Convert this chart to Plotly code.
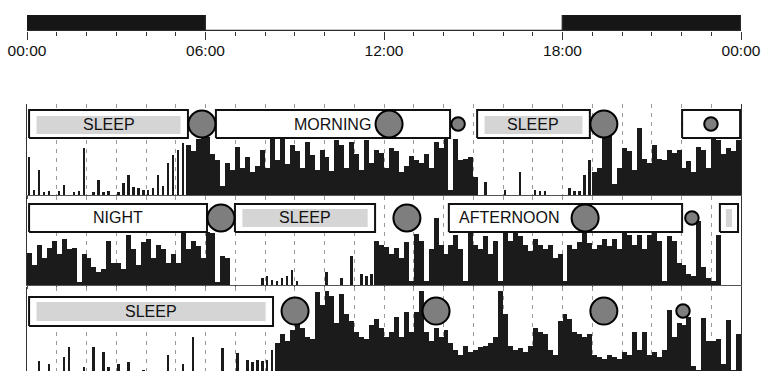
import plotly.graph_objects as go

# ---------------- data ----------------
TICK_HOURS = [0, 6, 12, 18, 24]
TICK_LABELS = ["00:00", "06:00", "12:00", "18:00", "00:00"]

LIGHT_START = [0, 6, 18]
LIGHT_END = [6, 18, 24]
LIGHT_PHASE = ["dark", "light", "dark"]

BIN_HOURS = 1 / 6  # 10-minute activity bins

ACT_DAY1 = [42, 5, 27, 3, 4, 0, 4, 11, 0, 3, 4, 52, 0, 3, 16, 3, 4, 0, 3, 13, 22, 9, 8, 6, 5, 8, 22, 10, 35, 44, 50, 57,
            55, 48, 62, 66, 64, 45, 38, 10, 35,
            28, 53, 30, 42, 25, 32, 49, 30, 62, 38, 61, 34, 55, 48, 30, 58, 44, 28, 50, 42, 26, 60, 55, 30, 58, 45,
            28, 60, 35, 50, 46, 30, 52, 48, 25, 32, 43, 38, 35, 45, 30, 58, 52, 62,
            5, 62, 38, 40, 42, 20,
            0, 14, 0, 0, 0, 5, 0, 0, 25, 0, 0, 6, 4, 4, 0, 0, 0, 0, 8, 4, 4, 22, 38, 25, 30, 66, 66, 12, 30, 52, 48,
            28, 74, 40, 35, 55, 40, 38, 50, 46, 50, 30, 37, 25, 53, 50, 30, 62, 60, 45, 52, 48, 60]

ACT_DAY2 = [36, 22, 45, 30, 42, 50, 35, 52, 40, 42, 3, 35, 30, 20, 15, 18, 50, 25, 25, 18, 56, 40, 22, 48, 52, 30, 45,
            40, 25, 35, 25, 58, 40, 50, 44, 30, 60, 58, 3, 33, 30, 0,
            0, 0, 0, 0, 0, 8, 10, 6, 5, 8, 10, 17, 5, 0, 0, 0, 0, 0, 15, 0, 0, 8, 0, 33, 0, 12, 10, 12, 50, 45,
            43, 35, 42, 30, 48, 5, 57, 50, 5, 40, 75, 45, 35, 45, 56, 40, 5, 58, 45, 40, 55, 35, 50, 5, 62, 50, 62,
            55, 45, 38, 52, 45, 40, 45, 30, 35, 5, 45, 40, 48, 60, 47, 40, 45, 52, 44, 52, 40, 58, 56, 45, 56, 40,
            56, 58, 50, 5, 55, 50, 25, 22, 12, 10, 72, 20, 8, 5, 56, 0, 0, 0, 0]

ACT_DAY3 = [0, 0, 18, 0, 15, 0, 0, 22, 33, 0, 0, 11, 0, 33, 0, 28, 11, 0, 15, 0, 17, 0, 0, 8, 0, 0, 0, 0, 24, 0, 0, 15,
            0, 44, 0, 0, 0, 0, 0, 32, 0, 0, 27, 0, 19, 17, 19, 18, 19, 30, 38,
            48, 40, 52, 72, 55, 45, 42, 94, 80, 96, 90, 60, 92, 70, 62, 50, 44, 42, 58, 65, 55, 45, 50, 67, 45, 72,
            50, 72, 96, 50, 40, 55, 45, 52, 38, 30, 25, 35, 28, 30, 33, 35, 38, 45, 96, 70, 35, 30, 32, 28, 35, 55,
            50, 48, 30, 25, 62, 70, 65, 50, 48, 45, 48, 25, 22, 20, 25, 22, 20, 28, 25, 50, 30, 50, 25, 28, 22, 30,
            75, 45, 60, 58, 67, 12, 8, 66, 40, 40, 42, 15, 63, 8, 48]

EP_DAY1_START = [0.07, 6.35, 15.13, 22.02]
EP_DAY1_END = [5.41, 14.22, 18.92, 23.97]
EP_DAY1_LABEL = ["SLEEP", "MORNING", "SLEEP", ""]
EP_DAY1_KIND = ["sleep", "wake", "sleep", "wake"]

EP_DAY2_START = [0.07, 6.99, 14.18, 23.29]
EP_DAY2_END = [6.05, 11.70, 22.02, 23.90]
EP_DAY2_LABEL = ["NIGHT", "SLEEP", "AFTERNOON", ""]
EP_DAY2_KIND = ["wake", "sleep", "wake", "sleep"]

EP_DAY3_START = [0.07]
EP_DAY3_END = [8.27]
EP_DAY3_LABEL = ["SLEEP"]
EP_DAY3_KIND = ["sleep"]

MARK_DAY1_TIME = [5.88, 12.17, 14.49, 19.39, 22.99]
MARK_DAY1_SIZE = ["large", "large", "small", "large", "small"]
MARK_DAY2_TIME = [6.52, 12.77, 18.76, 22.35]
MARK_DAY2_SIZE = ["large", "large", "large", "small"]
MARK_DAY3_TIME = [9.01, 13.75, 19.39, 22.05]
MARK_DAY3_SIZE = ["large", "large", "large", "small"]

# ---------------- style ----------------
W, H = 766, 371
FONT = "Liberation Sans, Arial, sans-serif"
INK = "#111111"
GRID = "#9a9a9a"
MARK_PX = {"large": 27, "small": 13.5}
LEFT_ALIGN_LABELS = {"AFTERNOON"}
SLEEP_BAR_FRACTION = 0.4  # activity during sleep drawn as thin spikes


def py(p):
    return 1 - p / H


ROWS = [
    dict(act=ACT_DAY1, s=EP_DAY1_START, e=EP_DAY1_END, lab=EP_DAY1_LABEL, kind=EP_DAY1_KIND,
         mt=MARK_DAY1_TIME, ms=MARK_DAY1_SIZE,
         domain=[py(195), py(104)], yrange=[0, 100], box=(62.6, 93.4), inner=(67.0, 86.8), mark_y=78.0,
         baseline=True),
    dict(act=ACT_DAY2, s=EP_DAY2_START, e=EP_DAY2_END, lab=EP_DAY2_LABEL, kind=EP_DAY2_KIND,
         mt=MARK_DAY2_TIME, ms=MARK_DAY2_SIZE,
         domain=[py(285), py(196)], yrange=[0, 100], box=(59.6, 91.0), inner=(65.2, 85.4), mark_y=75.3,
         baseline=True),
    dict(act=ACT_DAY3, s=EP_DAY3_START, e=EP_DAY3_END, lab=EP_DAY3_LABEL, kind=EP_DAY3_KIND,
         mt=MARK_DAY3_TIME, ms=MARK_DAY3_SIZE,
         domain=[0, py(287)], yrange=[6.7, 100], box=(56.7, 88.9), inner=(62.2, 83.3), mark_y=73.3,
         baseline=False),
]

fig = go.Figure()

# top light/dark bar
fig.add_trace(go.Bar(
    x=[e - s for s, e in zip(LIGHT_START, LIGHT_END)], base=LIGHT_START, y=[0.5] * len(LIGHT_START),
    orientation="h", width=1,
    marker=dict(color=["#161616" if p == "dark" else "#ffffff" for p in LIGHT_PHASE],
                line=dict(color="#2a2a2a", width=1.2)),
    xaxis="x", yaxis="y", showlegend=False, hoverinfo="skip"))

annotations = []
for k, r in enumerate(ROWS, start=2):
    xa, ya = f"x{k}", f"y{k}"
    n = len(r["act"])
    centers = [(i + 0.5) * BIN_HOURS for i in range(n)]
    sleep_spans = [(s, e) for s, e, kd in zip(r["s"], r["e"], r["kind"]) if kd == "sleep"]
    widths = [BIN_HOURS * (SLEEP_BAR_FRACTION if any(s <= c <= e for s, e in sleep_spans) else 1.0)
              for c in centers]
    fig.add_trace(go.Bar(
        x=centers, y=r["act"], width=widths,
        marker=dict(color="#1b1b1b", line=dict(width=0)),
        xaxis=xa, yaxis=ya, showlegend=False, hoverinfo="skip"))
    # episode boxes
    y0, y1 = r["box"]
    bx, by = [], []
    for s, e in zip(r["s"], r["e"]):
        bx += [s, e, e, s, s, None]
        by += [y0, y0, y1, y1, y0, None]
    fig.add_trace(go.Scatter(x=bx, y=by, mode="lines", fill="toself", fillcolor="white",
                             line=dict(color=INK, width=2), xaxis=xa, yaxis=ya,
                             showlegend=False, hoverinfo="skip"))
    # grey sleep shading
    iy0, iy1 = r["inner"]
    gx, gy = [], []
    for s, e, kd in zip(r["s"], r["e"], r["kind"]):
        if kd != "sleep":
            continue
        inset = min(0.25, (e - s) * 0.33)
        gx += [s + inset, e - inset, e - inset, s + inset, s + inset, None]
        gy += [iy0, iy0, iy1, iy1, iy0, None]
    if gx:
        fig.add_trace(go.Scatter(x=gx, y=gy, mode="lines", fill="toself", fillcolor="#d5d5d5",
                                 line=dict(width=0, color="rgba(0,0,0,0)"), xaxis=xa, yaxis=ya,
                                 showlegend=False, hoverinfo="skip"))
    # event markers
    fig.add_trace(go.Scatter(
        x=r["mt"], y=[r["mark_y"]] * len(r["mt"]), mode="markers",
        marker=dict(size=[MARK_PX[m] for m in r["ms"]], color="#7e7e7e", opacity=1,
                    line=dict(color="#000000", width=2)),
        xaxis=xa, yaxis=ya, showlegend=False, hoverinfo="skip"))
    # labels
    for s, e, lab in zip(r["s"], r["e"], r["lab"]):
        if not lab:
            continue
        left = lab in LEFT_ALIGN_LABELS
        annotations.append(dict(
            x=s if left else (s + e) / 2, y=(y0 + y1) / 2, xref=xa, yref=ya,
            text=lab, showarrow=False, xanchor="left" if left else "center", yanchor="middle",
            xshift=8 if left else 0, font=dict(family=FONT, size=16, color=INK)))

layout = dict(
    width=W, height=H, margin=dict(l=27, r=25, t=0, b=0, autoexpand=False),
    paper_bgcolor="white", plot_bgcolor="white", showlegend=False,
    font=dict(family=FONT, color=INK),
    bargap=0, annotations=annotations,
    xaxis=dict(domain=[0, 1], range=[0, 24], anchor="y", tickmode="array", tickvals=TICK_HOURS,
               ticktext=TICK_LABELS, ticks="outside", ticklen=8, tickwidth=1.2, tickcolor="#333",
               tickfont=dict(family=FONT, size=15.5, color=INK), ticklabelstandoff=-3,
               minor=dict(tickmode="array", tickvals=list(range(25)), ticks="outside", ticklen=4,
                          tickwidth=1.2, tickcolor="#333", showgrid=False),
               showline=False, showgrid=False, zeroline=False, fixedrange=True),
    yaxis=dict(domain=[py(31), py(15)], range=[0, 1], visible=False, fixedrange=True),
)
for k, r in enumerate(ROWS, start=2):
    layout[f"xaxis{k}"] = dict(
        domain=[0, 1], range=[0, 24], anchor=f"y{k}", matches="x",
        tickmode="linear", tick0=0, dtick=1, showticklabels=False,
        ticks="outside" if r["baseline"] else "", ticklen=3, tickwidth=1, tickcolor="#555",
        showline=r["baseline"], linecolor="#555", linewidth=1,
        showgrid=True, gridcolor=GRID, gridwidth=1, griddash="4px,5px", zeroline=False)
    layout[f"yaxis{k}"] = dict(
        domain=r["domain"], range=r["yrange"], anchor=f"x{k}",
        showline=True, mirror=True, linecolor="#333", linewidth=1.2,
        showticklabels=False, ticks="", showgrid=False, zeroline=False)

fig.update_layout(**layout)
fig.write_html("out.html", config={"displayModeBar": False},
               post_script="document.body.style.margin='0';document.body.style.padding='0';")
